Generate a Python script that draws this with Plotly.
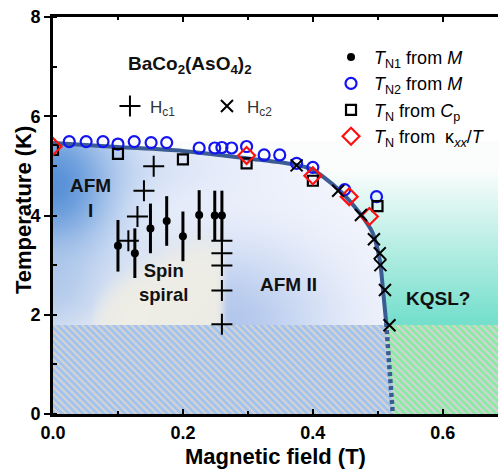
import numpy as np
import plotly.graph_objects as go
import zlib, struct, base64

# ---------------- data ----------------
tn1_field = [0.100, 0.126, 0.150, 0.175, 0.200, 0.225, 0.249, 0.260]
tn1_temp = [3.39, 3.24, 3.74, 3.89, 3.58, 4.01, 4.00, 4.00]
tn1_err = [0.52, 0.50, 0.50, 0.50, 0.50, 0.50, 0.50, 0.50]

tn2_field = [0.025, 0.051, 0.077, 0.100, 0.125, 0.151, 0.175, 0.225, 0.249, 0.260,
             0.275, 0.298, 0.325, 0.349, 0.375, 0.400, 0.449, 0.498]
tn2_temp = [5.49, 5.49, 5.49, 5.44, 5.49, 5.47, 5.47, 5.36, 5.36, 5.37,
            5.36, 5.39, 5.22, 5.22, 5.05, 4.97, 4.52, 4.38]

cp_field = [0.000, 0.100, 0.200, 0.298, 0.400, 0.4995]
cp_temp = [5.32, 5.24, 5.13, 5.05, 4.70, 4.19]

kxx_field = [0.000, 0.298, 0.400, 0.456, 0.487]
kxx_temp = [5.39, 5.21, 4.80, 4.38, 3.98]

hc1_field = [0.155, 0.140, 0.130, 0.116, 0.260, 0.260, 0.260, 0.260, 0.260]
hc1_temp = [4.99, 4.50, 3.98, 3.49, 3.49, 3.24, 2.99, 2.49, 1.81]

hc2_field = [0.375, 0.439, 0.474, 0.494, 0.503, 0.504, 0.511, 0.518]
hc2_temp = [5.01, 4.50, 4.01, 3.52, 3.24, 3.00, 2.50, 1.79]

boundary_field = [0.000, 0.100, 0.200, 0.300, 0.375, 0.400, 0.440, 0.472, 0.492, 0.503, 0.508, 0.513]
boundary_temp = [5.46, 5.38, 5.30, 5.15, 5.02, 4.92, 4.52, 4.05, 3.65, 3.10, 2.50, 1.83]
boundary_low_field = [0.513, 0.523]
boundary_low_temp = [1.83, 0.00]

hatch_temp = 1.8
x_range = [0, 0.685]
y_range = [0, 8]
x_ticks = [0.0, 0.2, 0.4, 0.6]
y_ticks = [0, 2, 4, 6, 8]

# ---------------- background picture ----------------
W, H = 445, 397
cols = (np.arange(W) + 0.5) / W * x_range[1]
rows = y_range[1] - (np.arange(H) + 0.5) / H * y_range[1]
X, Y = np.meshgrid(cols, rows)

bf = np.array(boundary_field + [boundary_low_field[1]])
bt = np.array(boundary_temp + [boundary_low_temp[1]])
order = np.argsort(bt)
bx = np.interp(Y, bt[order], bf[order], right=-1.0)
inside = X < bx

def sig(v):
    return 1.0 / (1.0 + np.exp(-v))

base = np.array([244, 246, 253], float)
c = np.broadcast_to(base, (H, W, 3)).copy()

def blend(cur, col, w):
    return cur * (1 - w[..., None]) + np.array(col, float) * w[..., None]

wtop = 0.35 * np.exp(-((X - 0.15) / 0.16) ** 2 - ((Y - 5.0) / 0.7) ** 2)
c = blend(c, (185, 205, 240), wtop)
wA = 0.78 * np.exp(-((X - 0.26) / 0.17) ** 2 - ((Y - 1.8) / 1.7) ** 2)
c = blend(c, (160, 186, 232), wA)
wb = 0.95 * np.exp(-((X - 0.0) / 0.10) ** 2 - ((Y - 4.6) / 1.5) ** 2)
c = blend(c, (80, 140, 214), wb)
wlb = 0.55 * np.exp(-((X - 0.0) / 0.07) ** 2 - ((Y - 2.5) / 1.0) ** 2)
c = blend(c, (150, 182, 226), wlb)
ytop = 1.8 + 1.7 * np.sqrt(np.clip((X - 0.06) / 0.16, 0, 1))
wsp = 0.93 * sig((0.262 - X) / 0.003) * sig((ytop - Y) / 0.15) * sig((X - 0.055) / 0.015)
c = blend(c, (241, 239, 229), wsp)

t = np.clip((4.9 - Y) / 3.1, 0, 1)
k = np.array([250, 253, 252], float) * (1 - t[..., None]) + np.array([115, 223, 204], float) * t[..., None]

img = np.where(inside[..., None], c, k)
img = np.where((Y > 5.5)[..., None] & ~inside[..., None], 255.0, img)

rr, cc = np.meshgrid(np.arange(H), np.arange(W), indexing="ij")
stripe = ((cc - rr) % 7) < 3
low = Y < hatch_temp
hb = np.where(stripe[..., None], np.array([210, 210, 212], float), np.array([164, 196, 240], float))
hg = np.where(stripe[..., None], np.array([208, 212, 208], float), np.array([140, 234, 166], float))
hatch = np.where(inside[..., None], hb, hg)
img = np.where(low[..., None], hatch, img)
img = np.clip(img, 0, 255).astype(np.uint8)

def png_uri(a):
    h, w, _ = a.shape
    raw = b"".join(b"\x00" + a[i].tobytes() for i in range(h))
    def chunk(tag, data):
        return struct.pack(">I", len(data)) + tag + data + struct.pack(">I", zlib.crc32(tag + data) & 0xffffffff)
    png = (b"\x89PNG\r\n\x1a\n" + chunk(b"IHDR", struct.pack(">IIBBBBB", w, h, 8, 2, 0, 0, 0))
           + chunk(b"IDAT", zlib.compress(raw, 9)) + chunk(b"IEND", b""))
    return "data:image/png;base64," + base64.b64encode(png).decode()

# ---------------- figure ----------------
FONT = "Liberation Sans, Arial, sans-serif"
LINE = "#3b5b93"
fig = go.Figure()

fig.add_trace(go.Scatter(x=boundary_field, y=boundary_temp, mode="lines",
                         line=dict(color=LINE, width=4, shape="spline", smoothing=0.8),
                         showlegend=False, hoverinfo="skip"))
fig.add_trace(go.Scatter(x=boundary_low_field, y=boundary_low_temp, mode="lines",
                         line=dict(color=LINE, width=4.5, dash="4px,3px"),
                         showlegend=False, hoverinfo="skip"))

fig.add_trace(go.Scatter(x=tn2_field, y=tn2_temp, mode="markers", legendrank=2, legendgroup="b",
                         name="<i>T</i><sub>N2</sub> from <i>M</i>",
                         marker=dict(symbol="circle-open", size=11, color="#1414f0",
                                     line=dict(width=2.2, color="#1414f0"))))
fig.add_trace(go.Scatter(x=cp_field, y=cp_temp, mode="markers", legendrank=3, legendgroup="c",
                         name="<i>T</i><sub>N</sub> from <i>C</i><sub>p</sub>",
                         marker=dict(symbol="square-open", size=10, color="black",
                                     line=dict(width=2.2, color="black"))))
fig.add_trace(go.Scatter(x=kxx_field, y=kxx_temp, mode="markers", legendrank=4, legendgroup="d",
                         name="<i>T</i><sub>N</sub> from  κ<sub><i>xx</i></sub>/<i>T</i>",
                         marker=dict(symbol="diamond-open", size=13, color="#ff1010",
                                     line=dict(width=2.2, color="#ff1010"))))
fig.add_trace(go.Scatter(x=tn1_field, y=tn1_temp, mode="markers", legendrank=1, legendgroup="a",
                         name="<i>T</i><sub>N1</sub> from <i>M</i>",
                         error_y=dict(type="data", array=tn1_err, color="black", thickness=3, width=0),
                         marker=dict(symbol="circle", size=8, color="black")))
fig.add_trace(go.Scatter(x=hc1_field, y=hc1_temp, mode="markers", legend="legend2",
                         name="H<sub>c1</sub>",
                         marker=dict(symbol="cross-thin", size=15, color="black",
                                     line=dict(width=2, color="black"))))
fig.add_trace(go.Scatter(x=hc2_field, y=hc2_temp, mode="markers", legend="legend2",
                         name="H<sub>c2</sub>",
                         marker=dict(symbol="x-thin", size=12, color="black",
                                     line=dict(width=2, color="black"))))

bold = dict(family=FONT, weight="bold", color="#111")
ann = [
    dict(x=0.211, y=7.04, text="BaCo<sub>2</sub>(AsO<sub>4</sub>)<sub>2</sub>", font=dict(size=19, **bold)),
    dict(x=0.057, y=4.35, text="AFM<br>I", font=dict(size=19, **bold)),
    dict(x=0.170, y=2.64, text="Spin<br>spiral", font=dict(size=18.5, **bold)),
    dict(x=0.362, y=2.60, text="AFM II", font=dict(size=19, **bold)),
    dict(x=0.592, y=2.32, text="KQSL?", font=dict(size=19, **bold)),
]
for a in ann:
    fig.add_annotation(xref="x", yref="y", showarrow=False, xanchor="center", yanchor="middle", **a)

# y-axis title placed as a rotated annotation to match position
fig.add_annotation(xref="paper", yref="paper", x=(23 - 53) / 445, y=(414 - 210) / 397,
                   text="Temperature (K)", textangle=-90, showarrow=False,
                   xanchor="center", yanchor="middle",
                   font=dict(family=FONT, size=22, weight="bold", color="black"))

fig.update_layout(
    width=498, height=469,
    margin=dict(l=53, r=0, t=17, b=55),
    paper_bgcolor="white", plot_bgcolor="white",
    images=[dict(source=png_uri(img), xref="x", yref="y", x=0, y=8, sizex=x_range[1], sizey=8,
                 sizing="stretch", layer="below", xanchor="left", yanchor="top")],
    legend=dict(x=0.618, y=0.945, xanchor="left", yanchor="top", bgcolor="rgba(0,0,0,0)",
                font=dict(family=FONT, size=18, color="black"), traceorder="grouped",
                tracegroupgap=0, itemwidth=36),
    legend2=dict(x=0.128, y=0.82, xanchor="left", yanchor="top", orientation="h",
                 bgcolor="rgba(0,0,0,0)", entrywidth=52, entrywidthmode="pixels",
                 font=dict(family=FONT, size=17, color="#333")),
    xaxis=dict(range=x_range, tickvals=x_ticks, tickformat=".1f", showgrid=False, zeroline=False,
               automargin=False,
               showline=True, linewidth=3, linecolor="black", mirror="ticks",
               ticks="inside", ticklen=5, tickwidth=2, tickcolor="black",
               minor=dict(ticks="inside", dtick=0.1, ticklen=3, tickwidth=2, tickcolor="black"),
               tickfont=dict(family=FONT, size=18, weight="bold", color="black"),
               title=dict(text="Magnetic field (T)", standoff=14,
                          font=dict(family=FONT, size=22, weight="bold", color="black"))),
    yaxis=dict(range=y_range, tickvals=y_ticks, showgrid=False, zeroline=False,
               automargin=False,
               showline=True, linewidth=3, linecolor="black", mirror=False,
               ticks="outside", ticklen=6, tickwidth=2, tickcolor="black",
               minor=dict(ticks="inside", dtick=1, ticklen=4, tickwidth=2, tickcolor="black"),
               tickfont=dict(family=FONT, size=18, weight="bold", color="black")),
)

fig.write_html("out.html")
